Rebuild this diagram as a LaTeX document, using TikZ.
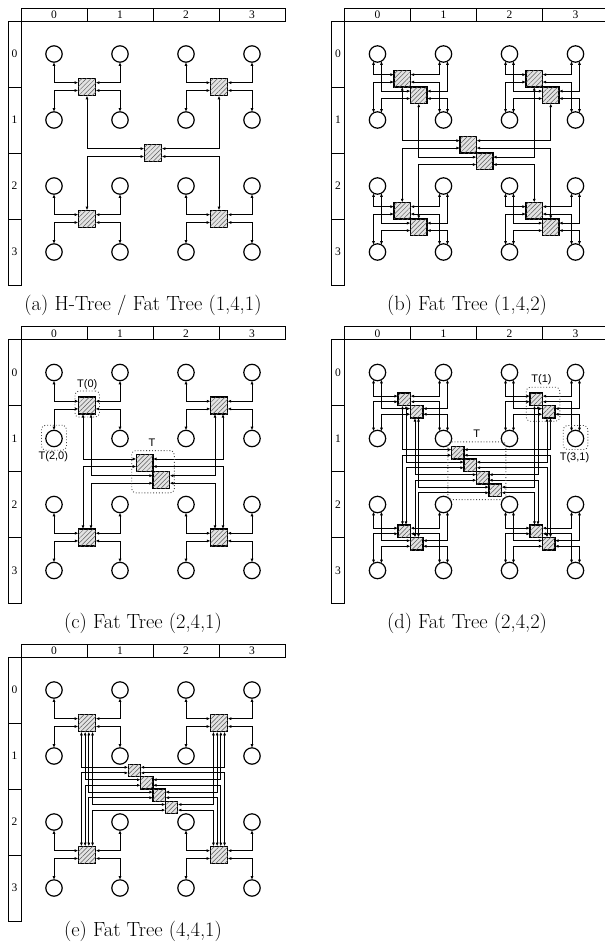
\documentclass[tikz,border=0pt]{standalone}
\usepackage{fontspec}
\newfontfamily\labfont{Liberation Sans}
\newfontfamily\rulfont{Liberation Serif}
\usetikzlibrary{arrows.meta,patterns.meta,calc}
\tikzset{
 swbox/.style={draw, line width=1.3pt, fill=gray!22, postaction={pattern={Lines[angle=45,distance=3.2pt,line width=0.5pt]}, pattern color=gray!70!black}, minimum size=#1, inner sep=0pt, outer sep=0pt},
 pe/.style={circle, draw, line width=1.2pt, minimum size=16.4pt, inner sep=0pt, outer sep=0pt},
 link/.style={line width=0.8pt, {Latex[length=3.6pt,width=3pt]}-{Latex[length=3.6pt,width=3pt]}},
 ruler/.style={line width=0.8pt},
 rnum/.style={font=\rulfont\fontsize{11.5}{12}\selectfont, inner sep=0pt},
 grp/.style={draw=gray!60!black, dotted, line width=0.9pt, rounded corners=4pt, inner sep=0pt, outer sep=0pt},
 lab/.style={font=\labfont\fontsize{11}{12}\selectfont, inner sep=0pt},
 captext/.style={font=\fontsize{20.5}{24}\selectfont, inner sep=0pt, anchor=base},
}
\newcommand\fatpanel[8]{%
 \begin{scope}[shift={(#2,#3)}]
  \draw[ruler] (21,8) rectangle (285,21);
  \draw[ruler] (8,21) rectangle (21,285);
  \foreach \ii in {1,2,3}{%
    \draw[ruler] ({21+66*\ii},8) -- ({21+66*\ii},21);
    \draw[ruler] (8,{21+66*\ii}) -- (21,{21+66*\ii});}
  \foreach \ii in {0,...,3}{%
    \node[rnum] (#1-cx\ii) at ({54+66*\ii},14.8) {\ii};
    \node[rnum] (#1-ry\ii) at (14.5,{54+66*\ii}) {\ii};}
  \foreach \ra in {0,...,3}{\foreach \ca in {0,...,3}{%
    \node[pe] (#1-p\ra\ca) at ({54+66*\ca},{54+66*\ra}) {};}}
  \pgfmathtruncatemacro\mLast{#4-1}
  \pgfmathtruncatemacro\uLast{#5-1}
  \pgfmathtruncatemacro\RLast{#4*#5-1}
  \foreach \rr in {0,...,\RLast}{%
    \pgfmathsetmacro\off{(\rr-\RLast/2)*#7}
    \node[swbox=#7pt] (#1-R\rr) at ({153+\off},{153+\off}) {};}
  \foreach \q/\cx/\cy/\rt/\rb/\cl/\cr/\hs/\vs/\ps/\mir in {0/87/87/0/1/0/1/west/south/-0.25/0, 1/219/87/0/1/2/3/east/south/-0.25/1, 2/87/219/2/3/0/1/west/north/0.2/0, 3/219/219/2/3/2/3/east/north/0.2/1}{%
    \foreach \kk in {0,...,\mLast}{%
      \pgfmathsetmacro\off{(\kk-\mLast/2)*#6}
      \node[swbox=#6pt] (#1-L\q-\kk) at ({\cx+\off},{\cy+\off}) {};
      \pgfmathsetmacro\dx{\mLast==0 ? 0 : (\kk==0 ? -4 : 4)}
      \pgfmathtruncatemacro\angD{round(-90+asin(\dx/8.2))}
      \pgfmathtruncatemacro\angU{round(90-asin(\dx/8.2))}
      \pgfmathsetmacro\pu{-0.25*#6}
      \pgfmathsetmacro\pl{0.2*#6}
      \draw[link] (#1-p\rt\cl.\angD) |- ($(#1-L\q-\kk.west)+(0,\pu)$);
      \draw[link] (#1-p\rb\cl.\angU) |- ($(#1-L\q-\kk.west)+(0,\pl)$);
      \draw[link] (#1-p\rt\cr.\angD) |- ($(#1-L\q-\kk.east)+(0,\pu)$);
      \draw[link] (#1-p\rb\cr.\angU) |- ($(#1-L\q-\kk.east)+(0,\pl)$);
      \foreach \jj in {0,...,\uLast}{%
        \pgfmathtruncatemacro\rr{\mir==1 ? \RLast-(\kk*#5+\jj) : \kk*#5+\jj}
        \pgfmathsetmacro\ux{(\jj-\uLast/2)*#8}
        \pgfmathsetmacro\py{\ps*#7}
        \draw[link] ($(#1-L\q-\kk.\vs)+(\ux,0)$) |- ($(#1-R\rr.\hs)+(0,\py)$);
      }
    }
  }
 \end{scope}}
\begin{document}
\begin{tikzpicture}[x=1pt,y=-1pt]
\useasboundingbox (0,0) rectangle (605,948);
\fatpanel{a}{0}{0}{1}{1}{17.5}{17.5}{0}
\fatpanel{b}{323.5}{0}{2}{1}{16.5}{16.5}{0}
\fatpanel{c}{0}{318.5}{1}{2}{17}{16.7}{8}
\fatpanel{d}{323.5}{318.5}{2}{2}{12.5}{12.5}{3.5}
\fatpanel{e}{0}{636}{1}{4}{17.5}{12.4}{3.7}
% groups in (c)
\begin{scope}[shift={(0,318.5)}]
 \node[grp, minimum width=42.6pt, minimum height=42.3pt] (c-gT) at (153,153.2) {};
 \node[lab] (c-lT) at (152,124) {T};
 \node[grp, minimum width=24.5pt, minimum height=26pt] (c-g0) at (87.2,85.5) {};
 \node[lab] (c-l0) at (87.3,66.3) {T(0)};
 \node[grp, minimum size=25pt] (c-g20) at (54,119.2) {};
 \node[lab] (c-l20) at (53.3,137.7) {T(2,0)};
\end{scope}
% groups in (d)
\begin{scope}[shift={(323.5,318.5)}]
 \node[grp, minimum width=58pt, minimum height=57.7pt] (d-gT) at (153.3,152.2) {};
 \node[lab] (d-lT) at (153.3,115.7) {T};
 \node[grp, minimum width=33.6pt, minimum height=34pt] (d-g1) at (219.5,85.7) {};
 \node[lab] (d-l1) at (218,61.3) {T(1)};
 \node[grp, minimum width=24.6pt, minimum height=24pt] (d-g31) at (252,119) {};
 \node[lab] (d-l31) at (251,138.7) {T(3,1)};
\end{scope}
\node[captext] (capa) at (143,310) {(a) H-Tree / Fat Tree (1,4,1)};
\node[captext] (capb) at (467,310) {(b) Fat Tree (1,4,2)};
\node[captext] (capc) at (143,628) {(c) Fat Tree (2,4,1)};
\node[captext] (capd) at (467,628) {(d) Fat Tree (2,4,2)};
\node[captext] (cape) at (143,936) {(e) Fat Tree (4,4,1)};
\end{tikzpicture}
\end{document}
